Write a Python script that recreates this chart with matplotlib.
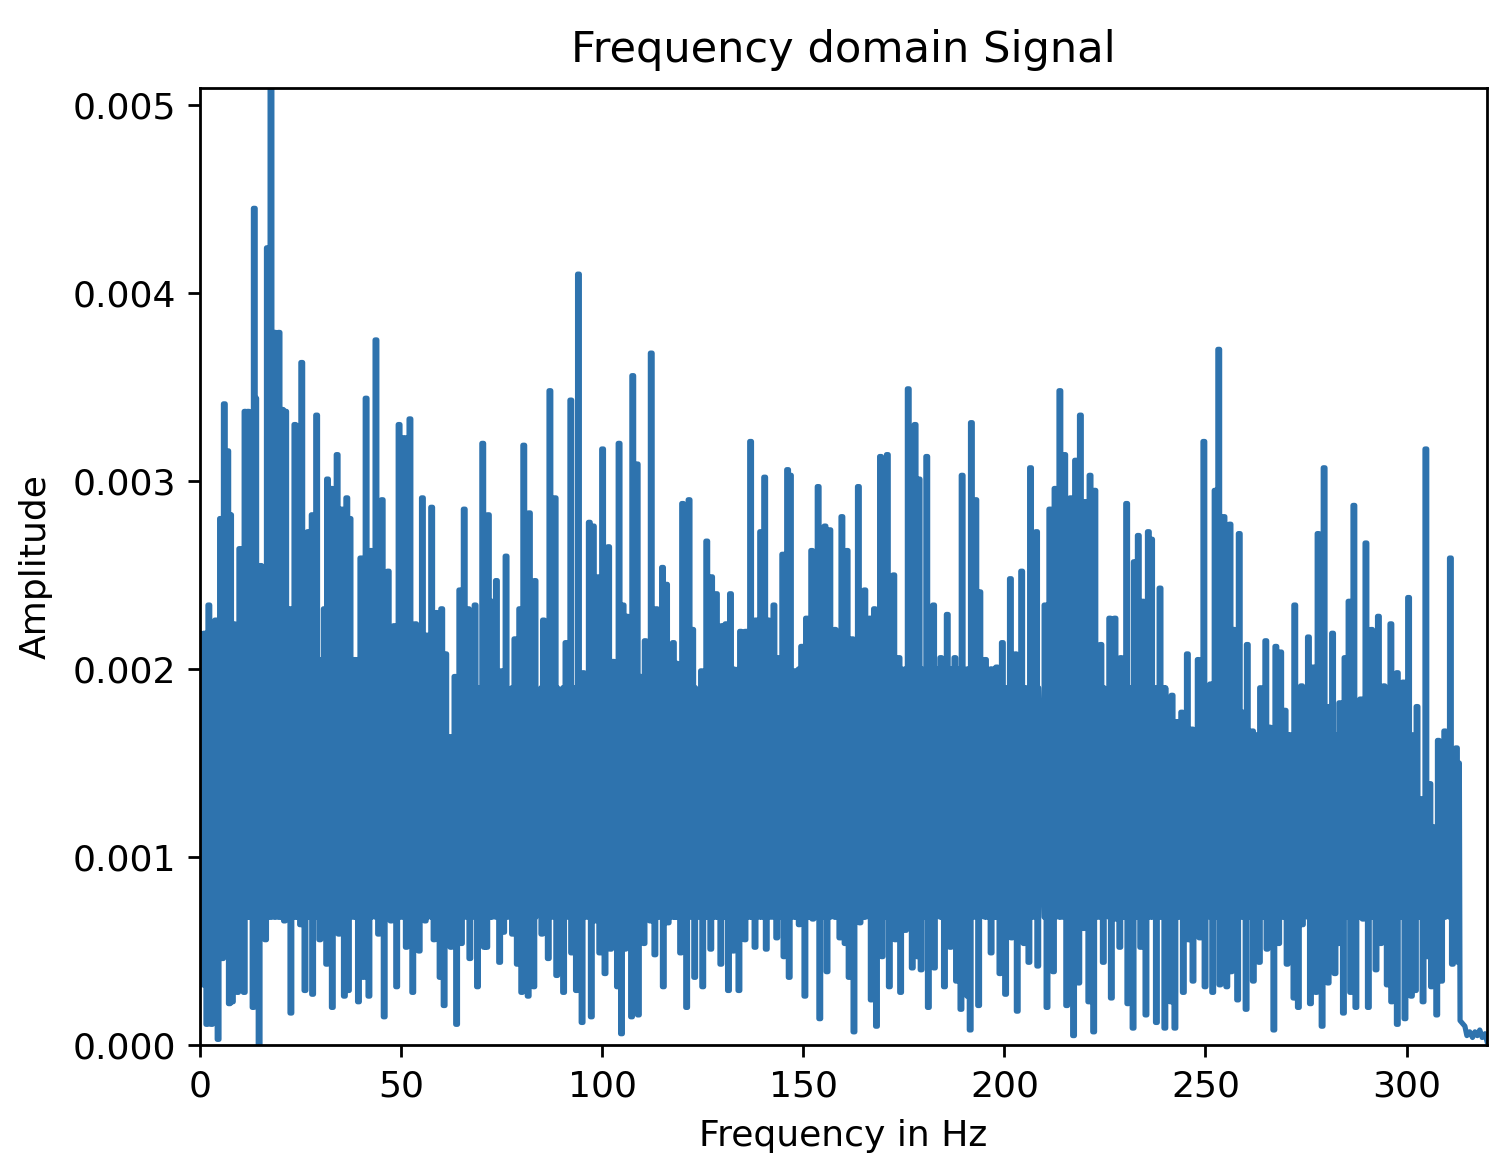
import matplotlib
matplotlib.use("Agg")
import matplotlib.pyplot as plt
import numpy as np

# Upper envelope of the spectrum (Hz, amplitude in units of 1e-3)
peak_freq = [
    0.0, 1.1, 2.2, 3.9, 5.1, 6.05, 6.9, 7.6, 8.45, 9.9, 11.2, 12.0, 13.5, 13.85, 15.1, 16.2, 16.75, 17.65, 18.65,
    19.65, 20.5, 21.3, 22.4, 23.6, 24.45, 25.3, 26.9, 27.9, 29.0, 30.9, 31.7, 32.7, 34.1, 35.2, 36.5, 37.3, 38.4,
    40.0, 41.3, 42.5, 43.75, 45.3, 46.8, 48.3, 49.5, 50.8, 52.2, 53.6, 55.3, 56.3, 57.6, 58.8, 60.1, 61.1, 62.1,
    63.4, 64.6, 65.7, 66.7, 68.4, 70.3, 71.7, 72.5, 73.7, 75.0, 76.1, 77.3, 78.3, 79.5, 80.5,
    81.9, 83.3, 85.4, 87.0, 88.3, 89.7, 91.0, 92.2, 94.1, 95.3, 96.8, 97.8, 99.1, 100.1, 101.6, 102.8, 104.2, 105.2,
    106.2, 107.6, 108.7, 109.6, 110.7, 112.2, 113.5, 115.0, 116.0, 117.7, 118.5, 120.0, 121.6, 122.5, 123.3, 124.7,
    126.0, 127.2, 128.4, 129.8, 130.8, 131.9, 133.0, 134.4, 135.7, 136.9, 138.2, 139.4, 140.4, 141.3, 142.7, 143.8,
    144.9, 146.1, 146.8, 147.9, 149.6, 150.8, 152.1, 153.7, 155.4, 156.6, 157.9, 159.6, 160.9,
    162.2, 163.7, 165.3, 166.6, 167.7, 169.2, 170.9, 172.5, 173.8, 174.9, 176.1, 177.8, 178.8, 179.6, 180.7, 182.4,
    184.2, 185.8, 187.7, 189.5, 191.8, 192.9, 193.9, 195.3, 196.4, 198.1, 199.5, 201.5, 202.8, 204.3, 206.5, 208.0,
    210.1, 211.3, 212.6, 213.8, 215.0, 216.5, 217.7, 218.9, 220.0, 221.3, 222.5, 224.0, 226.2, 227.5, 229.0, 230.4,
    232.3, 233.3, 234.5, 235.8, 236.6, 238.7, 240.3, 241.7,
    243.0, 244.1, 245.5, 246.7, 248.2, 249.6, 251.3, 252.4, 253.3, 254.6, 256.1, 257.1, 258.4, 259.4, 260.4, 261.7,
    263.7, 265.0, 266.0, 267.5, 268.7, 269.8, 271.0, 272.2, 273.9, 275.6, 276.8, 278.0, 279.5, 280.8, 281.6, 283.4,
    284.7, 285.7, 286.9, 288.6, 289.9, 291.3, 293.0, 294.4, 296.1, 297.7, 299.2, 300.5, 302.6, 303.7, 304.8, 305.8,
    307.0, 307.9, 309.5, 310.9, 312.4,
    314.5, 315.7, 317.0, 318.2, 319.5,
]
peak_amp = [
    2.19, 2.19, 2.34, 2.26, 2.80, 3.41, 3.16, 2.82, 2.24, 2.64, 3.37, 3.37, 4.45, 3.44, 2.55, 2.52, 4.24, 5.30, 3.79,
    3.79, 3.38, 3.37, 2.32, 3.30, 3.29, 3.63, 2.73, 2.82, 3.35, 2.32, 3.01, 2.96, 3.14, 2.85, 2.91, 2.80, 2.05,
    2.59, 3.44, 2.63, 3.75, 2.90, 2.52, 2.23, 3.30, 3.23, 3.33, 2.24, 2.91, 2.18, 2.86, 2.30, 2.32, 2.08, 1.64,
    1.96, 2.42, 2.85, 2.32, 2.34, 3.20, 2.82, 2.36, 2.47, 1.99, 2.60, 1.88, 2.16, 2.32, 3.19,
    2.83, 2.47, 2.26, 3.48, 2.91, 1.87, 2.14, 3.43, 4.10, 1.98, 2.78, 2.76, 2.49, 3.17, 2.65, 2.04, 3.20, 2.34,
    2.28, 3.56, 3.09, 1.96, 2.15, 3.68, 2.32, 2.54, 2.45, 2.14, 2.03, 2.88, 2.90, 2.21, 1.77, 1.99,
    2.68, 2.49, 2.40, 2.23, 2.24, 2.40, 1.80, 2.20, 2.20, 3.21, 2.26, 2.73, 3.02, 2.26, 2.34, 2.06,
    2.61, 3.06, 3.03, 1.99, 2.12, 2.27, 2.63, 2.97, 2.76, 2.74, 2.21, 2.81, 2.63,
    2.16, 2.97, 2.42, 2.27, 2.32, 3.13, 3.14, 2.50, 2.06, 1.91, 3.49, 3.30, 3.01, 1.82, 3.13, 2.34,
    2.06, 2.29, 2.06, 3.03, 3.31, 2.90, 2.41, 2.05, 1.91, 2.01, 2.14, 2.48, 2.08, 2.52, 3.07, 2.73,
    2.34, 2.85, 2.96, 3.48, 3.14, 2.91, 3.11, 3.35, 2.89, 3.03, 2.95, 2.13, 2.27, 2.27, 2.06, 2.88,
    2.57, 2.71, 2.36, 2.73, 2.69, 2.43, 1.74, 1.86,
    1.72, 1.77, 2.08, 1.68, 2.05, 3.21, 1.92, 2.95, 3.70, 2.81, 2.77, 2.21, 2.72, 1.77, 2.13, 1.67,
    1.90, 2.15, 1.69, 2.12, 2.09, 1.78, 1.65, 2.34, 1.91, 2.17, 2.01, 2.72, 3.07, 1.80, 2.19, 1.82,
    2.06, 2.36, 2.87, 1.84, 2.67, 2.21, 2.28, 1.91, 2.24, 1.98, 1.93, 2.38, 1.80, 1.31, 3.17, 1.39,
    1.16, 1.62, 1.67, 2.59, 1.58,
    0.10, 0.07, 0.07, 0.08, 0.06,
]

# Lower envelope of the spectrum
trough_freq = [
    0.6, 1.7, 2.9, 4.5, 5.6, 7.3, 8.05, 9.35, 11.0, 12.4, 13.2, 14.7, 16.3, 17.4, 18.2, 19.9, 21.0, 22.6, 23.8,
    25.0, 26.1, 28.0, 29.8, 31.5, 32.9, 34.55, 35.9, 36.9, 39.4, 40.6, 42.0, 43.1, 44.4, 45.8, 47.5, 48.9, 51.3,
    52.9, 54.5, 56.0, 57.2, 58.2, 59.7, 60.7, 62.4, 63.8, 65.0, 67.1, 69.0, 70.7, 71.3, 73.0, 74.5, 75.5, 77.7,
    78.9, 80.0,
    81.6, 83.0, 85.0, 86.6, 88.7, 90.4, 92.4, 93.6, 95.0, 97.3, 98.1, 99.4, 100.7, 102.1, 103.8, 104.8, 105.7,
    107.3, 109.0, 110.4, 112.0, 113.1, 115.2, 116.4, 118.2, 119.5, 121.0, 123.0, 125.0, 126.4, 127.0, 128.6, 129.5,
    131.4, 132.6, 134.0, 135.5, 138.0, 139.0, 140.8, 143.4, 145.2, 146.5, 149.0, 150.4, 152.4, 154.1, 155.9,
    157.3, 159.1, 160.4,
    161.4, 162.6, 164.1, 165.6, 166.9, 168.2, 169.6, 170.3, 171.4, 172.9, 174.2, 175.4, 176.4, 177.1, 178.4, 179.3,
    181.1, 182.6, 183.3, 185.1, 186.6, 188.1, 189.2, 190.9, 191.5, 193.6, 194.8, 196.7, 197.8, 198.9, 200.3, 201.8,
    203.2, 204.9, 206.1, 208.3, 210.6, 212.2, 213.4, 215.5, 217.2, 218.5, 219.7, 221.0, 222.2, 224.6, 226.6, 227.8,
    228.7, 230.7, 232.0, 233.9, 235.2, 237.8, 239.9, 241.4,
    242.4, 244.5, 245.8, 246.9, 248.6, 249.9, 251.8, 253.6, 255.3, 256.4, 258.0, 260.1, 261.9, 263.4, 265.3, 267.0,
    268.2, 270.3, 272.0, 273.1, 274.1, 276.1, 277.5, 279.0, 280.5, 282.2, 283.0, 284.3, 286.1, 287.4, 289.2, 290.5,
    292.4, 293.6, 295.2, 296.3, 297.7, 299.6, 301.2, 302.2, 304.1, 305.3, 306.2, 307.5, 308.7, 309.8, 311.4, 312.9,
    313.3, 315.0, 316.4, 317.6, 318.8, 320.0,
]
trough_amp = [
    0.32, 0.11, 0.11, 0.03, 0.46, 0.22, 0.23, 0.28, 0.28, 0.77, 0.20, 0.00, 0.56, 0.79, 0.69, 0.88, 0.66, 0.17, 1.06,
    0.64, 0.29, 0.27, 0.56, 0.43, 0.20, 0.59, 0.26, 0.29, 0.23, 0.36, 0.26, 0.72, 0.59, 0.15, 0.66, 0.31, 0.52,
    0.28, 0.50, 0.66, 0.96, 0.56, 0.36, 0.21, 0.52, 0.11, 0.54, 0.46, 0.31, 0.52, 0.52, 1.05, 0.44, 0.60, 0.59,
    0.43, 0.28,
    0.26, 0.31, 0.59, 0.46, 0.37, 0.28, 0.49, 0.29, 0.12, 0.15, 0.66, 0.49, 0.38, 0.51, 0.31, 0.06, 0.51,
    0.15, 0.16, 0.54, 0.66, 0.48, 0.31, 0.65, 0.77, 0.49, 0.20, 0.36, 0.31, 0.70, 0.51, 0.75, 0.43,
    0.29, 0.50, 0.29, 0.56, 0.52, 0.79, 0.51, 0.57, 0.47, 0.36, 0.64, 0.26, 0.67, 0.14, 0.39,
    1.05, 0.57, 0.54,
    0.36, 0.07, 0.65, 0.77, 0.24, 0.10, 0.47, 0.90, 0.31, 0.56, 0.28, 0.61, 1.10, 0.41, 0.47, 0.40,
    0.20, 0.41, 0.83, 0.31, 0.52, 0.34, 0.19, 0.26, 0.08, 0.21, 0.80, 0.49, 0.68, 0.38, 0.27, 0.57,
    0.18, 0.54, 0.44, 0.42, 0.20, 0.39, 0.75, 0.21, 0.05, 0.33, 0.62, 0.23, 0.07, 0.44, 0.25, 0.67,
    0.52, 0.22, 0.09, 0.52, 0.16, 0.12, 0.09, 0.23,
    0.09, 0.28, 0.56, 0.34, 0.57, 0.31, 0.28, 0.32, 0.31, 0.39, 0.24, 0.19, 0.34, 0.44, 0.51, 0.08,
    0.54, 0.43, 0.25, 0.20, 0.64, 0.22, 0.28, 0.10, 0.33, 0.38, 0.54, 0.17, 0.28, 0.20, 0.67, 0.20,
    0.40, 0.54, 0.32, 0.23, 0.11, 0.14, 0.26, 0.29, 0.23, 0.47, 0.31, 0.16, 0.34, 0.80, 0.43, 0.44,
    0.13, 0.05, 0.04, 0.05, 0.04, 0.02,
]

# Top of the solid middle of the band, read per frequency range
core_edges = [60.5, 64, 130, 200, 240, 302, 308, 313]
core_top = [2.05, 1.55, 1.9, 2.0, 1.9, 1.65, 1.1, 1.5, 1.5]
core_low = 0.68
cutoff = 313.0  # the signal drops to almost nothing above this
stroke = 0.22  # half width of one reading, Hz

x_ticks = [0, 50, 100, 150, 200, 250, 300]
y_ticks = [0.000, 0.001, 0.002, 0.003, 0.004, 0.005]

# Every reading is a narrow block from the solid middle out to the envelope
readings = [(f, a, core_low) for f, a in zip(peak_freq, peak_amp)]
readings += [(f, a, core_top[np.searchsorted(core_edges, f)]) for f, a in zip(trough_freq, trough_amp)]
readings.sort()

freq = []
amp = []
for f, a, back in readings:
    if f < cutoff:
        freq += [f - stroke, f - stroke, f + stroke, f + stroke]
        amp += [back, a, a, back]
    else:
        freq.append(f)
        amp.append(a)
amp = np.array(amp) * 1e-3

plt.rcParams["font.size"] = 10.4
fig = plt.figure(figsize=(1490 / 250, 1154 / 250), dpi=250)
ax = fig.add_axes([200 / 1490, 109 / 1154, 1287 / 1490, 957 / 1154])
ax.plot(freq, amp, color="#2e73ae", lw=1.5)
ax.set_xlim(0, 320)
ax.set_ylim(0, 0.00509)
ax.set_xticks(x_ticks)
ax.set_yticks(y_ticks)
ax.set_title("Frequency domain Signal", fontsize=10.4 * 1.2, pad=7.5)
ax.set_xlabel("Frequency in Hz", labelpad=4.4)
ax.set_ylabel("Amplitude", labelpad=5.7)

fig.savefig("out.png", dpi=250)
